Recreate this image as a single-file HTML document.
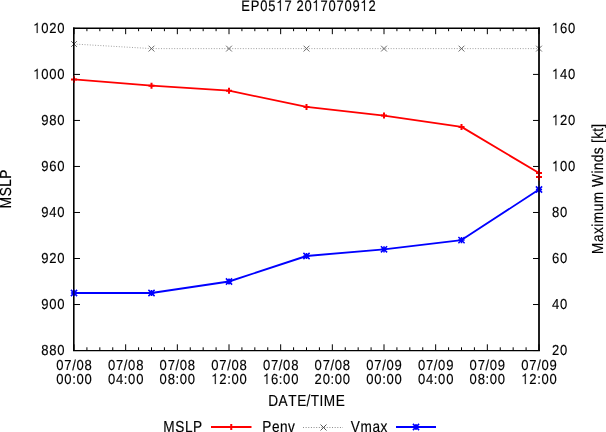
<!DOCTYPE html>
<html><head><meta charset="utf-8"><style>
html,body{margin:0;padding:0;background:#fff;width:606px;height:432px;overflow:hidden}
svg{display:block;will-change:transform}
text{text-rendering:geometricPrecision;font-family:"Liberation Sans",sans-serif;font-size:14.5px;fill:#000;stroke:#000;stroke-width:0.15px}
.o use{fill:#000;stroke:#000;stroke-width:21.2px}
</style></head><body>
<svg width="606" height="432" viewBox="0 0 606 432">
<defs><path id="one" d="M707,0L557,0L557,1170Q450,1100 198,1075L198,1175Q360,1215 475,1315Q565,1395 602,1466L707,1466Z"/></defs>
<g stroke="#000" stroke-width="1">
<line x1="74.00" y1="350.3" x2="74.00" y2="344.3"/>
<line x1="74.00" y1="28.2" x2="74.00" y2="34.2"/>
<line x1="86.92" y1="350.3" x2="86.92" y2="347.3"/>
<line x1="86.92" y1="28.2" x2="86.92" y2="31.2"/>
<line x1="99.83" y1="350.3" x2="99.83" y2="347.3"/>
<line x1="99.83" y1="28.2" x2="99.83" y2="31.2"/>
<line x1="112.75" y1="350.3" x2="112.75" y2="347.3"/>
<line x1="112.75" y1="28.2" x2="112.75" y2="31.2"/>
<line x1="125.67" y1="350.3" x2="125.67" y2="344.3"/>
<line x1="125.67" y1="28.2" x2="125.67" y2="34.2"/>
<line x1="138.58" y1="350.3" x2="138.58" y2="347.3"/>
<line x1="138.58" y1="28.2" x2="138.58" y2="31.2"/>
<line x1="151.50" y1="350.3" x2="151.50" y2="347.3"/>
<line x1="151.50" y1="28.2" x2="151.50" y2="31.2"/>
<line x1="164.42" y1="350.3" x2="164.42" y2="347.3"/>
<line x1="164.42" y1="28.2" x2="164.42" y2="31.2"/>
<line x1="177.33" y1="350.3" x2="177.33" y2="344.3"/>
<line x1="177.33" y1="28.2" x2="177.33" y2="34.2"/>
<line x1="190.25" y1="350.3" x2="190.25" y2="347.3"/>
<line x1="190.25" y1="28.2" x2="190.25" y2="31.2"/>
<line x1="203.17" y1="350.3" x2="203.17" y2="347.3"/>
<line x1="203.17" y1="28.2" x2="203.17" y2="31.2"/>
<line x1="216.08" y1="350.3" x2="216.08" y2="347.3"/>
<line x1="216.08" y1="28.2" x2="216.08" y2="31.2"/>
<line x1="229.00" y1="350.3" x2="229.00" y2="344.3"/>
<line x1="229.00" y1="28.2" x2="229.00" y2="34.2"/>
<line x1="241.92" y1="350.3" x2="241.92" y2="347.3"/>
<line x1="241.92" y1="28.2" x2="241.92" y2="31.2"/>
<line x1="254.83" y1="350.3" x2="254.83" y2="347.3"/>
<line x1="254.83" y1="28.2" x2="254.83" y2="31.2"/>
<line x1="267.75" y1="350.3" x2="267.75" y2="347.3"/>
<line x1="267.75" y1="28.2" x2="267.75" y2="31.2"/>
<line x1="280.67" y1="350.3" x2="280.67" y2="344.3"/>
<line x1="280.67" y1="28.2" x2="280.67" y2="34.2"/>
<line x1="293.58" y1="350.3" x2="293.58" y2="347.3"/>
<line x1="293.58" y1="28.2" x2="293.58" y2="31.2"/>
<line x1="306.50" y1="350.3" x2="306.50" y2="347.3"/>
<line x1="306.50" y1="28.2" x2="306.50" y2="31.2"/>
<line x1="319.42" y1="350.3" x2="319.42" y2="347.3"/>
<line x1="319.42" y1="28.2" x2="319.42" y2="31.2"/>
<line x1="332.33" y1="350.3" x2="332.33" y2="344.3"/>
<line x1="332.33" y1="28.2" x2="332.33" y2="34.2"/>
<line x1="345.25" y1="350.3" x2="345.25" y2="347.3"/>
<line x1="345.25" y1="28.2" x2="345.25" y2="31.2"/>
<line x1="358.17" y1="350.3" x2="358.17" y2="347.3"/>
<line x1="358.17" y1="28.2" x2="358.17" y2="31.2"/>
<line x1="371.08" y1="350.3" x2="371.08" y2="347.3"/>
<line x1="371.08" y1="28.2" x2="371.08" y2="31.2"/>
<line x1="384.00" y1="350.3" x2="384.00" y2="344.3"/>
<line x1="384.00" y1="28.2" x2="384.00" y2="34.2"/>
<line x1="396.92" y1="350.3" x2="396.92" y2="347.3"/>
<line x1="396.92" y1="28.2" x2="396.92" y2="31.2"/>
<line x1="409.83" y1="350.3" x2="409.83" y2="347.3"/>
<line x1="409.83" y1="28.2" x2="409.83" y2="31.2"/>
<line x1="422.75" y1="350.3" x2="422.75" y2="347.3"/>
<line x1="422.75" y1="28.2" x2="422.75" y2="31.2"/>
<line x1="435.67" y1="350.3" x2="435.67" y2="344.3"/>
<line x1="435.67" y1="28.2" x2="435.67" y2="34.2"/>
<line x1="448.58" y1="350.3" x2="448.58" y2="347.3"/>
<line x1="448.58" y1="28.2" x2="448.58" y2="31.2"/>
<line x1="461.50" y1="350.3" x2="461.50" y2="347.3"/>
<line x1="461.50" y1="28.2" x2="461.50" y2="31.2"/>
<line x1="474.42" y1="350.3" x2="474.42" y2="347.3"/>
<line x1="474.42" y1="28.2" x2="474.42" y2="31.2"/>
<line x1="487.33" y1="350.3" x2="487.33" y2="344.3"/>
<line x1="487.33" y1="28.2" x2="487.33" y2="34.2"/>
<line x1="500.25" y1="350.3" x2="500.25" y2="347.3"/>
<line x1="500.25" y1="28.2" x2="500.25" y2="31.2"/>
<line x1="513.17" y1="350.3" x2="513.17" y2="347.3"/>
<line x1="513.17" y1="28.2" x2="513.17" y2="31.2"/>
<line x1="526.08" y1="350.3" x2="526.08" y2="347.3"/>
<line x1="526.08" y1="28.2" x2="526.08" y2="31.2"/>
<line x1="539.00" y1="350.3" x2="539.00" y2="344.3"/>
<line x1="539.00" y1="28.2" x2="539.00" y2="34.2"/>
<line x1="74" y1="28.40" x2="80" y2="28.40"/>
<line x1="539" y1="28.40" x2="533" y2="28.40"/>
<line x1="74" y1="74.42" x2="80" y2="74.42"/>
<line x1="539" y1="74.42" x2="533" y2="74.42"/>
<line x1="74" y1="120.44" x2="80" y2="120.44"/>
<line x1="539" y1="120.44" x2="533" y2="120.44"/>
<line x1="74" y1="166.46" x2="80" y2="166.46"/>
<line x1="539" y1="166.46" x2="533" y2="166.46"/>
<line x1="74" y1="212.48" x2="80" y2="212.48"/>
<line x1="539" y1="212.48" x2="533" y2="212.48"/>
<line x1="74" y1="258.50" x2="80" y2="258.50"/>
<line x1="539" y1="258.50" x2="533" y2="258.50"/>
<line x1="74" y1="304.52" x2="80" y2="304.52"/>
<line x1="539" y1="304.52" x2="533" y2="304.52"/>
<line x1="74" y1="350.54" x2="80" y2="350.54"/>
<line x1="539" y1="350.54" x2="533" y2="350.54"/>
</g>
<polyline points="74.00,44.01 151.50,48.61 229.00,48.61 306.50,48.61 384.00,48.61 461.50,48.61 539.00,48.61" fill="none" stroke="#a0a0a0" stroke-width="1" stroke-linejoin="round" stroke-dasharray="1 1.64"/><path d="M71.10 41.11L76.90 46.91M71.10 46.91L76.90 41.11M148.60 45.71L154.40 51.51M148.60 51.51L154.40 45.71M226.10 45.71L231.90 51.51M226.10 51.51L231.90 45.71M303.60 45.71L309.40 51.51M303.60 51.51L309.40 45.71M381.10 45.71L386.90 51.51M381.10 51.51L386.90 45.71M458.60 45.71L464.40 51.51M458.60 51.51L464.40 45.71M536.10 45.71L541.90 51.51M536.10 51.51L541.90 45.71" stroke="#6a6a6a" stroke-width="1" fill="none"/><polyline points="74.00,79.40 151.50,85.70 229.00,90.70 306.50,106.90 384.00,115.60 461.50,126.90 539.00,173.00" fill="none" stroke="#ff0000" stroke-width="1.85" stroke-linejoin="round" /><path d="M71.00 79.40H77.00M74.00 76.40V82.40M148.50 85.70H154.50M151.50 82.70V88.70M226.00 90.70H232.00M229.00 87.70V93.70M303.50 106.90H309.50M306.50 103.90V109.90M381.00 115.60H387.00M384.00 112.60V118.60M458.50 126.90H464.50M461.50 123.90V129.90M536.00 173.00H542.00M539.00 170.00V176.00M536.00 176.90H542.00M539.00 173.90V179.90" stroke="#ff0000" stroke-width="2" fill="none"/><polyline points="74.00,293.00 151.50,293.00 229.00,281.50 306.50,256.00 384.00,249.30 461.50,240.10 539.00,189.50" fill="none" stroke="#0000ff" stroke-width="1.85" stroke-linejoin="round" /><path d="M70.90 293.00H77.10M74.00 289.90V296.10M70.90 289.90L77.10 296.10M70.90 296.10L77.10 289.90M148.40 293.00H154.60M151.50 289.90V296.10M148.40 289.90L154.60 296.10M148.40 296.10L154.60 289.90M225.90 281.50H232.10M229.00 278.40V284.60M225.90 278.40L232.10 284.60M225.90 284.60L232.10 278.40M303.40 256.00H309.60M306.50 252.90V259.10M303.40 252.90L309.60 259.10M303.40 259.10L309.60 252.90M380.90 249.30H387.10M384.00 246.20V252.40M380.90 246.20L387.10 252.40M380.90 252.40L387.10 246.20M458.40 240.10H464.60M461.50 237.00V243.20M458.40 237.00L464.60 243.20M458.40 243.20L464.60 237.00M535.90 189.50H542.10M539.00 186.40V192.60M535.90 186.40L542.10 192.60M535.90 192.60L542.10 186.40" stroke="#0000ff" stroke-width="1.5" fill="none"/>
<g stroke="#000" fill="none"><line x1="73" y1="28.2" x2="540" y2="28.2" stroke-width="1.5"/><line x1="73" y1="350.6" x2="540" y2="350.6" stroke-width="1.25"/><line x1="73.8" y1="27.45" x2="73.8" y2="351.0" stroke-width="1.6"/><line x1="539" y1="27.45" x2="539" y2="351.0" stroke-width="1.75"/></g>
<rect x="73" y="75.9" width="2" height="7" fill="#ff0000" opacity="0.35"/><rect x="538" y="169.5" width="2" height="10.900000000000006" fill="#ff0000" opacity="0.4"/><rect x="73" y="289.3" width="2" height="7" fill="#0000ff" opacity="0.35"/><rect x="538" y="185.9" width="2" height="7" fill="#0000ff" opacity="0.35"/>
<line x1="211" y1="427" x2="251.5" y2="427" stroke="#ff0000" stroke-width="2"/><path d="M228.25 427.00H234.25M231.25 424.00V430.00" stroke="#ff0000" stroke-width="2"/><line x1="303" y1="427.5" x2="343" y2="427.5" stroke="#8c8c8c" stroke-width="1" stroke-dasharray="1 1.64"/><path d="M320.50 424.50L326.50 430.50M320.50 430.50L326.50 424.50" stroke="#555" stroke-width="1"/><line x1="396" y1="427" x2="436" y2="427" stroke="#0000ff" stroke-width="2"/><path d="M412.90 427.00H419.10M416.00 423.90V430.10M412.90 423.90L419.10 430.10M412.90 430.10L419.10 423.90" stroke="#0000ff" stroke-width="1.5"/>
<g class="o">
<g transform="translate(308.40,10.90) scale(0.9,1.06)"><text x="-74.65 -63.98 -53.39 -44.50 -35.60 -26.70 -18.02 -13.36 -4.46 4.44 13.34 22.24 31.14 40.03 48.93 57.83 66.73" y="0" style="font-size:14.4px">EP05 7 20 70709 2</text><use href="#one" transform="translate(-35.60,0) scale(0.007031,-0.007031)"/><use href="#one" transform="translate(4.44,0) scale(0.007031,-0.007031)"/><use href="#one" transform="translate(57.83,0) scale(0.007031,-0.007031)"/></g>
<g transform="translate(65.00,33.10) scale(0.9,1.0)"><text x="-35.39 -26.43 -17.47 -8.51" y="0" style="font-size:14.5px"> 020</text><use href="#one" transform="translate(-35.39,0) scale(0.007080,-0.007080)"/></g>
<g transform="translate(551.50,33.10) scale(0.9,1.0)"><text x="0.45 9.41 18.37" y="0" style="font-size:14.5px"> 60</text><use href="#one" transform="translate(0.45,0) scale(0.007080,-0.007080)"/></g>
<g transform="translate(65.00,79.12) scale(0.9,1.0)"><text x="-35.39 -26.43 -17.47 -8.51" y="0" style="font-size:14.5px"> 000</text><use href="#one" transform="translate(-35.39,0) scale(0.007080,-0.007080)"/></g>
<g transform="translate(551.50,79.12) scale(0.9,1.0)"><text x="0.45 9.41 18.37" y="0" style="font-size:14.5px"> 40</text><use href="#one" transform="translate(0.45,0) scale(0.007080,-0.007080)"/></g>
<g transform="translate(65.00,125.14) scale(0.9,1.0)"><text x="-26.43 -17.47 -8.51" y="0" style="font-size:14.5px">980</text></g>
<g transform="translate(551.50,125.14) scale(0.9,1.0)"><text x="0.45 9.41 18.37" y="0" style="font-size:14.5px"> 20</text><use href="#one" transform="translate(0.45,0) scale(0.007080,-0.007080)"/></g>
<g transform="translate(65.00,171.16) scale(0.9,1.0)"><text x="-26.43 -17.47 -8.51" y="0" style="font-size:14.5px">960</text></g>
<g transform="translate(551.50,171.16) scale(0.9,1.0)"><text x="0.45 9.41 18.37" y="0" style="font-size:14.5px"> 00</text><use href="#one" transform="translate(0.45,0) scale(0.007080,-0.007080)"/></g>
<g transform="translate(65.00,217.18) scale(0.9,1.0)"><text x="-26.43 -17.47 -8.51" y="0" style="font-size:14.5px">940</text></g>
<g transform="translate(551.50,217.18) scale(0.9,1.0)"><text x="0.45 9.41" y="0" style="font-size:14.5px">80</text></g>
<g transform="translate(65.00,263.20) scale(0.9,1.0)"><text x="-26.43 -17.47 -8.51" y="0" style="font-size:14.5px">920</text></g>
<g transform="translate(551.50,263.20) scale(0.9,1.0)"><text x="0.45 9.41" y="0" style="font-size:14.5px">60</text></g>
<g transform="translate(65.00,309.22) scale(0.9,1.0)"><text x="-26.43 -17.47 -8.51" y="0" style="font-size:14.5px">900</text></g>
<g transform="translate(551.50,309.22) scale(0.9,1.0)"><text x="0.45 9.41" y="0" style="font-size:14.5px">40</text></g>
<g transform="translate(65.00,355.24) scale(0.9,1.0)"><text x="-26.43 -17.47 -8.51" y="0" style="font-size:14.5px">880</text></g>
<g transform="translate(551.50,355.24) scale(0.9,1.0)"><text x="0.45 9.41" y="0" style="font-size:14.5px">20</text></g>
<g transform="translate(74.00,370.00) scale(0.9,1.0)"><text x="-19.71 -10.75 -2.01 2.69 11.65" y="0" style="font-size:14.5px">07/08</text></g>
<g transform="translate(74.00,384.00) scale(0.9,1.0)"><text x="-19.71 -10.75 -2.01 2.69 11.65" y="0" style="font-size:14.5px">00:00</text></g>
<g transform="translate(125.67,370.00) scale(0.9,1.0)"><text x="-19.71 -10.75 -2.01 2.69 11.65" y="0" style="font-size:14.5px">07/08</text></g>
<g transform="translate(125.67,384.00) scale(0.9,1.0)"><text x="-19.71 -10.75 -2.01 2.69 11.65" y="0" style="font-size:14.5px">04:00</text></g>
<g transform="translate(177.33,370.00) scale(0.9,1.0)"><text x="-19.71 -10.75 -2.01 2.69 11.65" y="0" style="font-size:14.5px">07/08</text></g>
<g transform="translate(177.33,384.00) scale(0.9,1.0)"><text x="-19.71 -10.75 -2.01 2.69 11.65" y="0" style="font-size:14.5px">08:00</text></g>
<g transform="translate(229.00,370.00) scale(0.9,1.0)"><text x="-19.71 -10.75 -2.01 2.69 11.65" y="0" style="font-size:14.5px">07/08</text></g>
<g transform="translate(229.00,384.00) scale(0.9,1.0)"><text x="-19.71 -10.75 -2.01 2.69 11.65" y="0" style="font-size:14.5px"> 2:00</text><use href="#one" transform="translate(-19.71,0) scale(0.007080,-0.007080)"/></g>
<g transform="translate(280.67,370.00) scale(0.9,1.0)"><text x="-19.71 -10.75 -2.01 2.69 11.65" y="0" style="font-size:14.5px">07/08</text></g>
<g transform="translate(280.67,384.00) scale(0.9,1.0)"><text x="-19.71 -10.75 -2.01 2.69 11.65" y="0" style="font-size:14.5px"> 6:00</text><use href="#one" transform="translate(-19.71,0) scale(0.007080,-0.007080)"/></g>
<g transform="translate(332.33,370.00) scale(0.9,1.0)"><text x="-19.71 -10.75 -2.01 2.69 11.65" y="0" style="font-size:14.5px">07/08</text></g>
<g transform="translate(332.33,384.00) scale(0.9,1.0)"><text x="-19.71 -10.75 -2.01 2.69 11.65" y="0" style="font-size:14.5px">20:00</text></g>
<g transform="translate(384.00,370.00) scale(0.9,1.0)"><text x="-19.71 -10.75 -2.01 2.69 11.65" y="0" style="font-size:14.5px">07/09</text></g>
<g transform="translate(384.00,384.00) scale(0.9,1.0)"><text x="-19.71 -10.75 -2.01 2.69 11.65" y="0" style="font-size:14.5px">00:00</text></g>
<g transform="translate(435.67,370.00) scale(0.9,1.0)"><text x="-19.71 -10.75 -2.01 2.69 11.65" y="0" style="font-size:14.5px">07/09</text></g>
<g transform="translate(435.67,384.00) scale(0.9,1.0)"><text x="-19.71 -10.75 -2.01 2.69 11.65" y="0" style="font-size:14.5px">04:00</text></g>
<g transform="translate(487.33,370.00) scale(0.9,1.0)"><text x="-19.71 -10.75 -2.01 2.69 11.65" y="0" style="font-size:14.5px">07/09</text></g>
<g transform="translate(487.33,384.00) scale(0.9,1.0)"><text x="-19.71 -10.75 -2.01 2.69 11.65" y="0" style="font-size:14.5px">08:00</text></g>
<g transform="translate(539.00,370.00) scale(0.9,1.0)"><text x="-19.71 -10.75 -2.01 2.69 11.65" y="0" style="font-size:14.5px">07/09</text></g>
<g transform="translate(539.00,384.00) scale(0.9,1.0)"><text x="-19.71 -10.75 -2.01 2.69 11.65" y="0" style="font-size:14.5px"> 2:00</text><use href="#one" transform="translate(-19.71,0) scale(0.007080,-0.007080)"/></g>
<g transform="translate(306.50,406.00) scale(0.94,1.1)"><text x="-40.80 -29.69 -19.42 -9.98 0.13 4.57 13.84 18.38 31.16" y="0" style="font-size:14.5px">DATE/TIME</text></g>
<g transform="translate(10.80,189.00) rotate(-90) scale(0.94,1.1)"><text x="-20.62 -7.84 2.39 11.02" y="0" style="font-size:14.5px">MSLP</text></g>
<g transform="translate(603.00,189.00) rotate(-90) scale(0.94,1.1)"><text x="-69.04 -56.32 -47.76 -40.18 -36.47 -23.75 -15.04 -2.45 2.15 16.37 19.95 28.53 37.09 44.70 48.98 53.37 60.98 65.27" y="0" style="font-size:14.5px">Maximum Winds [kt]</text></g>
<g transform="translate(163.00,431.90) scale(0.94,1.1)"><text x="0.39 13.16 23.40 32.03" y="0" style="font-size:14.5px">MSLP</text></g>
<g transform="translate(262.00,431.90) scale(0.94,1.1)"><text x="0.31 10.55 19.13 27.68" y="0" style="font-size:14.5px">Penv</text></g>
<g transform="translate(350.50,431.90) scale(0.94,1.1)"><text x="0.31 10.67 23.40 31.95" y="0" style="font-size:14.5px">Vmax</text></g>
</g>
</svg>
</body></html>
